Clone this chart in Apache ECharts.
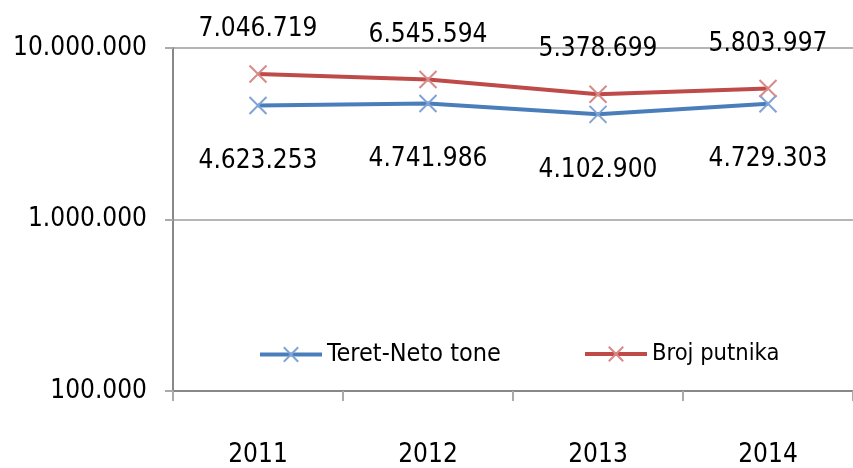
<!DOCTYPE html>
<html><head><meta charset="utf-8">
<script src="https://cdn.jsdelivr.net/npm/echarts@6/dist/echarts.min.js"></script>
<style>html,body{margin:0;padding:0;background:#fff}#c{width:853px;height:468px}</style>
</head><body><div id="c"></div>
<script>
var categories = ['2011', '2012', '2013', '2014'];
var teret = [4623253, 4741986, 4102900, 4729303];
var putnici = [7046719, 6545594, 5378699, 5803997];
var seriesNames = ['Teret-Neto tone', 'Broj putnika'];
var yTicks = [100000, 1000000, 10000000];

var FONT = 'DejaVu Sans Condensed';
function fmt(v) { return String(Math.round(v)).replace(/\B(?=(\d{3})+(?!\d))/g, '.'); }
var X = 'path://M0,0L10,10M10,0L0,10';
var chart = echarts.init(document.getElementById('c'));
function mk(name, data, color, light, pos, dist) {
  return {
    name: name, type: 'line', data: data, symbol: X, symbolSize: 17,
    lineStyle: { color: color, width: 4 },
    itemStyle: { color: light, borderColor: light, borderWidth: 2 },
    label: { show: true, position: pos, distance: dist, formatter: function (p) { return fmt(p.value); },
      fontFamily: FONT, fontSize: 26, color: '#000' },
    emphasis: { disabled: true }, animation: false
  };
}
function leg(left, name, fs) {
  return {
    left: left, top: 342, padding: 0, itemWidth: 62, itemHeight: 18, itemGap: 5,
    lineStyle: { width: 4 }, data: [name],
    textStyle: { fontFamily: FONT, fontSize: fs, color: '#000' }
  };
}
chart.setOption({
  animation: false,
  grid: { left: 173, right: 0, top: 48, bottom: 77 },
  legend: [ leg(258, seriesNames[0], 25), leg(583, seriesNames[1], 23.5) ],
  xAxis: {
    type: 'category', data: categories, boundaryGap: true,
    axisLine: { lineStyle: { color: '#888', width: 2 } },
    axisTick: { show: true, length: 10, lineStyle: { color: '#aaa', width: 2 } },
    axisLabel: { fontFamily: FONT, fontSize: 26, color: '#000', margin: 51 }
  },
  yAxis: {
    type: 'log', logBase: 10, min: yTicks[0], max: yTicks[yTicks.length - 1],
    axisLine: { show: true, lineStyle: { color: '#888', width: 2 } },
    axisTick: { show: true, length: 8, lineStyle: { color: '#aaa', width: 2 } },
    splitLine: { lineStyle: { color: '#b5b5b5', width: 2 } },
    axisLabel: { fontFamily: FONT, fontSize: 26, color: '#000', margin: 26, formatter: fmt }
  },
  series: [
    mk(seriesNames[0], teret, '#4A7EBB', '#7FA3D6', 'bottom', 33),
    mk(seriesNames[1], putnici, '#BE4B48', '#D88A88', 'top', 22)
  ]
});
</script></body></html>
